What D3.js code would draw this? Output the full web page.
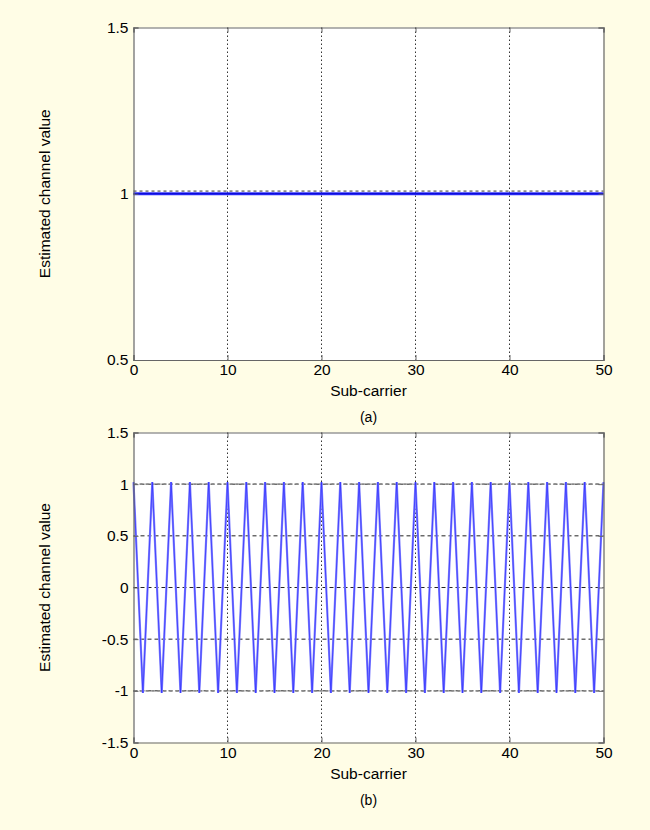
<!DOCTYPE html>
<html><head><meta charset="utf-8">
<script src="https://cdn.jsdelivr.net/npm/d3@7"></script>
<style>body{margin:0;background:#fffde6;} svg{display:block;}</style>
</head><body>
<script>
// ---- data ----
const subCarriers = [0,1,2,3,4,5,6,7,8,9,10,11,12,13,14,15,16,17,18,19,20,21,22,23,24,25,26,27,28,29,30,31,32,33,34,35,36,37,38,39,40,41,42,43,44,45,46,47,48,49,50];
const topValues = [1,1,1,1,1,1,1,1,1,1,1,1,1,1,1,1,1,1,1,1,1,1,1,1,1,1,1,1,1,1,1,1,1,1,1,1,1,1,1,1,1,1,1,1,1,1,1,1,1,1,1];
const bottomValues = [1.02,-1.02,1.02,-1.02,1.02,-1.02,1.02,-1.02,1.02,-1.02,1.02,-1.02,1.02,-1.02,1.02,-1.02,1.02,-1.02,1.02,-1.02,1.02,-1.02,1.02,-1.02,1.02,-1.02,1.02,-1.02,1.02,-1.02,1.02,-1.02,1.02,-1.02,1.02,-1.02,1.02,-1.02,1.02,-1.02,1.02,-1.02,1.02,-1.02,1.02,-1.02,1.02,-1.02,1.02,-1.02,1.02];
const xTicks = [0,10,20,30,40,50];
const topYTicks = [0.5,1,1.5];
const bottomYTicks = [-1.5,-1,-0.5,0,0.5,1,1.5];
const xLabel = "Sub-carrier";
const yLabel = "Estimated channel value";
const captions = ["(a)","(b)"];

const W = 650, H = 830;
const FONT = "Liberation Sans, Arial, sans-serif";
const svg = d3.select("body").append("svg").attr("width", W).attr("height", H);
svg.append("rect").attr("width", W).attr("height", H).attr("fill", "#fffde6");

function panel(cfg) {
  const {top, bottom, yDomain, yTicks, values, caption, hGrid, refLines} = cfg;
  const left = 133.5, right = 603.5;
  const x = d3.scaleLinear().domain([0, 50]).range([left, right]);
  const y = d3.scaleLinear().domain(yDomain).range([bottom, top]);
  const g = svg.append("g");
  g.append("rect").attr("x", left).attr("y", top).attr("width", right-left).attr("height", bottom-top).attr("fill", "#ffffff");
  g.selectAll(".vg").data(xTicks.slice(1, -1)).join("line")
    .attr("x1", d => x(d)).attr("x2", d => x(d)).attr("y1", top).attr("y2", bottom)
    .attr("stroke", "#333").attr("stroke-width", 1).attr("stroke-dasharray", "1.5,2.5");
  if (hGrid) {
    g.selectAll(".hg").data(yTicks.slice(1, -1)).join("line")
      .attr("x1", left).attr("x2", right).attr("y1", d => y(d)).attr("y2", d => y(d))
      .attr("stroke", "#222").attr("stroke-width", 1).attr("stroke-dasharray", "4,3");
  }
  refLines.forEach(v => {
    g.append("line").attr("x1", left).attr("x2", right).attr("y1", y(v)).attr("y2", y(v))
      .attr("stroke", "#8a8a8a").attr("stroke-width", 1.6).attr("stroke-dasharray", "3,3");
  });
  const line = d3.line().x((d, i) => x(subCarriers[i])).y(d => y(d));
  g.append("path").datum(values).attr("d", line).attr("fill", "none")
    .attr("stroke", cfg.lightColor).attr("stroke-width", cfg.lightWidth);
  g.append("path").datum(values).attr("d", line).attr("fill", "none")
    .attr("stroke", cfg.darkColor).attr("stroke-width", cfg.darkWidth);
  g.append("g").attr("transform", `translate(0,${bottom})`)
    .call(d3.axisBottom(x).tickValues(xTicks).tickSize(-5).tickPadding(4).tickFormat(d => String(d)));
  g.append("g").attr("transform", `translate(${left},0)`)
    .call(d3.axisLeft(y).tickValues(yTicks).tickSize(-5).tickPadding(5).tickFormat(d => String(d)));
  g.append("g").attr("transform", `translate(0,${top})`).call(d3.axisTop(x).tickValues(xTicks).tickSize(-5).tickFormat(""));
  g.append("g").attr("transform", `translate(${right},0)`).call(d3.axisRight(y).tickValues(yTicks).tickSize(-5).tickFormat(""));
  g.selectAll(".domain").attr("stroke", "#666").attr("stroke-width", 1.2);
  g.selectAll(".tick line").attr("stroke", "#666");
  g.selectAll(".tick text").attr("font-family", FONT).attr("font-size", 15.5).attr("fill", "#000");
  svg.append("text").attr("x", (left+right)/2).attr("y", bottom + 36).attr("text-anchor", "middle")
    .attr("font-family", FONT).attr("font-size", 15.5).text(xLabel);
  svg.append("text").attr("x", (left+right)/2).attr("y", bottom + 62).attr("text-anchor", "middle")
    .attr("font-family", FONT).attr("font-size", 14).text(caption);
  svg.append("text").attr("transform", `translate(${left-84},${(top+bottom)/2}) rotate(-90)`).attr("text-anchor", "middle")
    .attr("font-family", FONT).attr("font-size", 15.5).text(yLabel);
}

panel({top: 27.5, bottom: 360, yDomain: [0.5, 1.5], yTicks: topYTicks, values: topValues, caption: captions[0],
  hGrid: false, refLines: [1.008], lightColor: "#3333ff", lightWidth: 3, darkColor: "#0000cc", darkWidth: 1});
panel({top: 432.5, bottom: 742.5, yDomain: [-1.5, 1.5], yTicks: bottomYTicks, values: bottomValues, caption: captions[1],
  hGrid: true, refLines: [1, -1], lightColor: "#8484ff", lightWidth: 2.2, darkColor: "#2a2aff", darkWidth: 0.7});
</script>
</body></html>
